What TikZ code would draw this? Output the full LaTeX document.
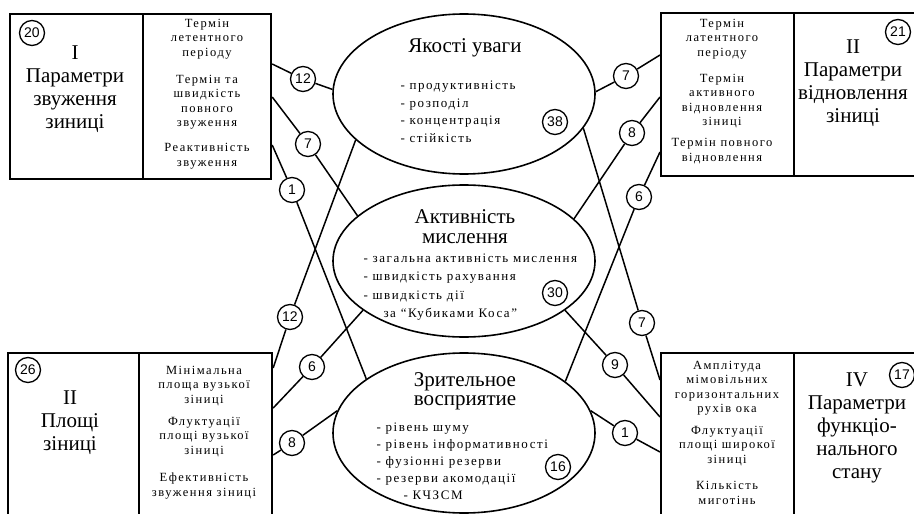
\documentclass[tikz,border=0pt]{standalone}
\usepackage{fontspec}
\setmainfont{Liberation Serif}
\setsansfont{Liberation Sans}
\newfontfamily\spaced[LetterSpace=12]{Liberation Serif}
\usetikzlibrary{shapes.geometric,calc}

\tikzset{
  cell/.style={draw, line width=2.2pt, anchor=north west, inner sep=0pt},
  head/.style={align=center, font=\fontsize{21}{23}\selectfont},
  note/.style={align=center, font=\spaced\fontsize{12.5}{14.5}\selectfont},
  items/.style={align=left, anchor=west, font=\spaced\fontsize{13}{17.5}\selectfont},
  oval/.style={draw, ellipse, line width=1.6pt, inner sep=0pt, minimum width=262pt},
  num/.style={draw, circle, line width=1.3pt, minimum size=25pt, inner sep=0pt, font=\sffamily\fontsize{14}{14}\selectfont},
  link/.style={line width=1.5pt},
}

\begin{document}
\begin{tikzpicture}[x=1pt,y=-1pt]
\useasboundingbox (0,0) rectangle (914,514);

% corner blocks
\node[cell, minimum width=133pt, minimum height=165pt] (tlL) at (9,13) {};
\node[cell, minimum width=128pt, minimum height=165pt] (tlR) at (142,13) {};
\node[cell, minimum width=133pt, minimum height=163pt] (trL) at (660,12) {};
\node[cell, minimum width=133pt, minimum height=163pt] (trR) at (793,12) {};
\node[cell, minimum width=131pt, minimum height=175pt] (blL) at (7,352) {};
\node[cell, minimum width=133pt, minimum height=175pt] (blR) at (138,352) {};
\node[cell, minimum width=133pt, minimum height=175pt] (brL) at (660,352) {};
\node[cell, minimum width=133pt, minimum height=175pt] (brR) at (793,352) {};

\node[num] (k20) at (32,33) {20};
\node[head] (tlHead) at (75,89) {I\\Параметри\\звуження\\зиниці};
\node[note] (tlA) at (207,39) {Термін\\летентного\\періоду};
\node[note] (tlB) at (207,102) {Термін та\\швидкість\\повного\\звуження};
\node[note] (tlC) at (207,156) {Реактивність\\звуження};

\node[num] (k21) at (898,32) {21};
\node[head] (trHead) at (853,83) {II\\Параметри\\відновлення\\зіниці};
\node[note] (trA) at (722,39) {Термін\\латентного\\періоду};
\node[note] (trB) at (722,101) {Термін\\активного\\відновлення\\зіниці};
\node[note] (trC) at (722,151) {Термін повного\\відновлення};

\node[num] (k26) at (28,370) {26};
\node[head] (blHead) at (70,423) {II\\Площі\\зіниці};
\node[note] (blA) at (204,386) {Мінімальна\\площа вузької\\зіниці};
\node[note] (blB) at (204,437) {Флуктуації\\площі вузької\\зіниці};
\node[note] (blC) at (204,486) {Ефективність\\звуження зіниці};

\node[num] (k17) at (902,375) {17};
\node[head] (brHead) at (857,428) {IV\\Параметри\\функціо-\\нального\\стану};
\node[note] (brA) at (727,388) {Амплітуда\\мімовільних\\горизонтальних\\рухів ока};
\node[note] (brB) at (727,446) {Флуктуації\\площі широкої\\зіниці};
\node[note] (brC) at (727,493) {Кількість\\миготінь};

% central ovals
\node[oval, minimum height=160pt] (attn) at (464,94) {};
\node[head] (attnHead) at (465,48) {Якості уваги};
\node[items] (attnList) at (397,112) {- продуктивність\\- розподіл\\- концентрація\\- стійкість};
\node[num] (k38) at (555,122) {38};

\node[oval, minimum height=152pt] (think) at (464,261) {};
\node[head, font=\fontsize{21}{20}\selectfont] (thinkHead) at (465,227) {Активність\\мислення};
\node[items, font=\spaced\fontsize{13}{18.3}\selectfont] (thinkList) at (360,287) {- загальна активність мислення\\- швидкість рахування\\- швидкість дії\\\hspace*{20pt}за “Кубиками Коса”};
\node[num] (k30) at (555,293) {30};

\node[oval, minimum height=160pt] (perc) at (464,433) {};
\node[head, font=\fontsize{21}{19}\selectfont] (percHead) at (465,391) {Зрительное\\восприятие};
\node[items, font=\spaced\fontsize{13}{17}\selectfont] (percList) at (373,461) {- рівень шуму\\- рівень інформативності\\- фузіонні резерви\\- резерви акомодації\\\hspace*{27pt}- КЧЗСМ};
\node[num] (k16) at (558,467) {16};

% weights
\node[num] (l12a) at (303,79) {12};
\node[num] (l7) at (308,144) {7};
\node[num] (l1) at (292,190) {1};
\node[num] (l12b) at (290,317) {12};
\node[num] (l6) at (312,367) {6};
\node[num] (l8) at (292,443) {8};
\node[num] (r7a) at (626,76) {7};
\node[num] (r8) at (632,133) {8};
\node[num] (r6) at (639,197) {6};
\node[num] (r7b) at (642,323) {7};
\node[num] (r9) at (615,365) {9};
\node[num] (r1) at (625,433) {1};

\draw[link] ($(tlR.north east)+(0,51)$) -- (l12a) -- (attn.178);
\draw[link] ($(tlR.north east)+(0,84)$) -- (l7) -- (think.157);
\draw[link] ($(tlR.north east)+(0,132)$) -- (l1) -- (perc.151);
\draw[link] (attn.203) -- (l12b) -- ($(blR.north east)+(0,16)$);
\draw[link] (think.206) -- (l6) -- ($(blR.north east)+(0,56)$);
\draw[link] (perc.170) -- (l8) -- ($(blR.north east)+(0,103)$);
\draw[link] ($(trL.north west)+(0,43)$) -- (r7a) -- (attn.1);
\draw[link] ($(trL.north west)+(0,85)$) -- (r8) -- (think.21);
\draw[link] ($(trL.north west)+(0,140)$) -- (r6) -- (perc.27);
\draw[link] (attn.344) -- (r7b) -- ($(brL.north west)+(0,28)$);
\draw[link] (think.334) -- (r9) -- ($(brL.north west)+(0,65)$);
\draw[link] (perc.10) -- (r1) -- ($(brL.north west)+(0,100)$);
\end{tikzpicture}
\end{document}
